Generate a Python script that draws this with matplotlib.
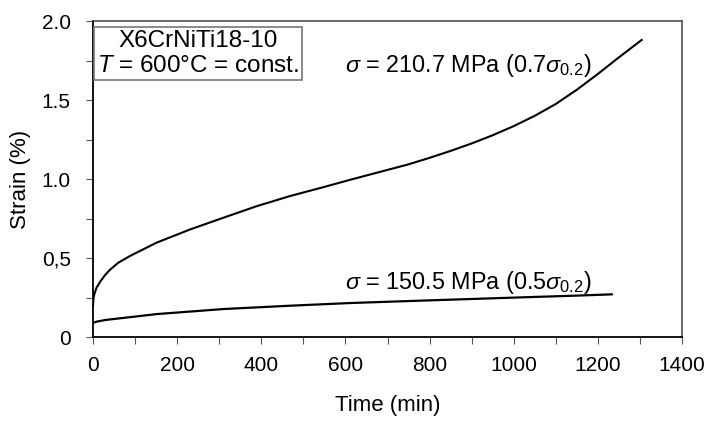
import matplotlib
matplotlib.use("Agg")
import matplotlib.pyplot as plt
from matplotlib.ticker import MultipleLocator, FuncFormatter

plt.rcParams['font.family'] = ['Liberation Sans', 'DejaVu Sans']
plt.rcParams['mathtext.fontset'] = 'custom'
plt.rcParams['mathtext.rm'] = 'Liberation Sans'
plt.rcParams['mathtext.it'] = 'Liberation Sans:italic'

# sigma = 210.7 MPa curve
t_high = [0, 1, 3, 8, 17, 28, 40, 60, 88, 151, 231, 310, 389, 468, 547, 611,
          682, 750, 801, 850, 900, 950, 1000, 1050, 1100, 1150, 1200, 1250, 1304]
e_high = [0.20, 0.24, 0.27, 0.31, 0.35, 0.39, 0.425, 0.47, 0.513, 0.597,
          0.681, 0.755, 0.828, 0.892, 0.948, 0.995, 1.045, 1.093, 1.135, 1.178,
          1.225, 1.277, 1.335, 1.40, 1.475, 1.565, 1.665, 1.77, 1.88]

# sigma = 150.5 MPa curve
t_low = [0, 10, 30, 96, 151, 310, 468, 611, 800, 1031, 1150, 1233]
e_low = [0.09, 0.098, 0.108, 0.128, 0.145, 0.177, 0.198, 0.215, 0.232,
         0.252, 0.262, 0.27]

y_labels = {0.0: '0', 0.5: '0,5', 1.0: '1.0', 1.5: '1.5', 2.0: '2.0'}

fig = plt.figure(figsize=(7.1, 4.28), dpi=100)
ax = fig.add_axes([0.131, 0.2126, 0.8296, 0.7383])

ax.plot(t_high, e_high, color='black', lw=1.5)
ax.plot(t_low, e_low, color='black', lw=1.6)

ax.set_xlim(0, 1400)
ax.set_ylim(0, 2.0)
ax.xaxis.set_major_locator(MultipleLocator(200))
ax.xaxis.set_minor_locator(MultipleLocator(100))
ax.yaxis.set_major_locator(MultipleLocator(0.5))
ax.yaxis.set_minor_locator(MultipleLocator(0.25))
ax.yaxis.set_major_formatter(FuncFormatter(lambda v, p: y_labels.get(round(v, 2), '')))
ax.tick_params(which='both', direction='out', length=5, width=0.8,
               labelsize=15, color='#555555')
ax.tick_params(axis='x', pad=9)
ax.tick_params(axis='y', pad=11)

for s in ['left', 'bottom']:
    ax.spines[s].set_color('black')
    ax.spines[s].set_linewidth(1.3)
for s in ['top', 'right']:
    ax.spines[s].set_color('#444444')
    ax.spines[s].set_linewidth(1.1)

ax.set_xlabel('Time (min)', fontsize=16, labelpad=14)
ax.set_ylabel('Strain (%)', fontsize=16, labelpad=8)

ax.text(0.178, 0.898, 'X6CrNiTi18-10\n$T$ = 600°C = const.', transform=ax.transAxes,
        ha='center', va='center', fontsize=17.5, linespacing=1.2,
        bbox=dict(boxstyle='square,pad=0.12', fc='white', ec='#777777', lw=1.2))

ax.text(599, 1.678, r'$\sigma$ = 210.7 MPa (0.7$\sigma_{0.2}$)', fontsize=16.8,
        ha='left', va='baseline')
ax.text(599, 0.303, r'$\sigma$ = 150.5 MPa (0.5$\sigma_{0.2}$)', fontsize=16.8,
        ha='left', va='baseline')

fig.savefig('out.png', dpi=100)
